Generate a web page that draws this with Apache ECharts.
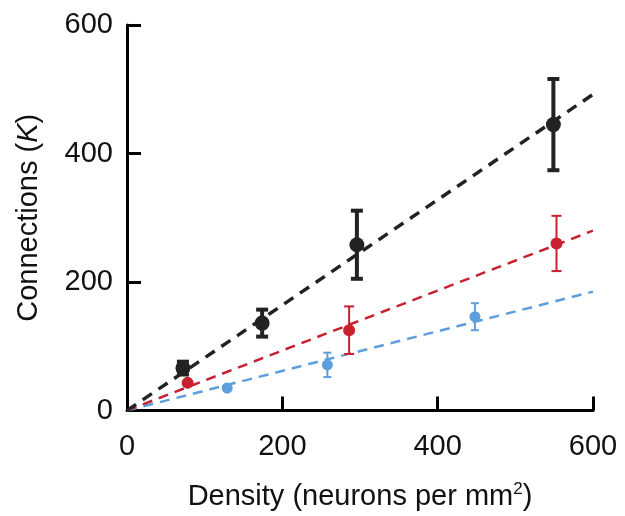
<!DOCTYPE html>
<html>
<head>
<meta charset="utf-8">
<script src="https://cdn.jsdelivr.net/npm/echarts@6/dist/echarts.min.js"></script>
<style>
html,body{margin:0;padding:0;background:#fff;}
#main{width:625px;height:516px;}
</style>
</head>
<body>
<div id="main"></div>
<script>
// data
var blackX = [72, 174, 296, 549];
var blackY = [66, 136, 258, 445];
var blackErr = [10, 21, 53, 71];
var redX = [78, 286, 553];
var redY = [43, 125, 260];
var redErr = [0, 37, 43];
var blueX = [129, 258, 448];
var blueY = [35, 71, 146];
var blueErr = [4, 19, 21];
// fitted lines: [x, y] endpoints
var blackFit = [[0, 0], [600, 492]];
var redFit = [[0, 0], [600, 280]];
var blueFit = [[0, 0], [600, 185]];
var xTicks = [0, 200, 400, 600];
var yTicks = [0, 200, 400, 600];

var BLACK = '#222222', RED = '#c8202e', BLUE = '#5d9fdc';

function points(xs, ys){
    var out = [];
    for(var i = 0; i < xs.length; i++){
        out.push([xs[i], ys[i]]);
    }
    return out;
}
function errRows(xs, ys, es){
    var out = [];
    for(var i = 0; i < xs.length; i++){
        if(es[i] > 0) out.push([xs[i], ys[i] - es[i], ys[i] + es[i]]);
    }
    return out;
}
//误差棒
function errSeries(rows, color, lw, cap){
    return {
        type: 'custom',
        silent: true,
        z: 3,
        data: rows,
        renderItem: function(params, api){
            var lo = api.coord([api.value(0), api.value(1)]);
            var hi = api.coord([api.value(0), api.value(2)]);
            var st = { stroke: color, lineWidth: lw };
            return {
                type: 'group',
                children: [
                    { type: 'line', shape: { x1: lo[0], y1: lo[1], x2: hi[0], y2: hi[1] }, style: st },
                    { type: 'line', shape: { x1: lo[0] - cap, y1: lo[1], x2: lo[0] + cap, y2: lo[1] }, style: st },
                    { type: 'line', shape: { x1: hi[0] - cap, y1: hi[1], x2: hi[0] + cap, y2: hi[1] }, style: st }
                ]
            };
        }
    };
}
function fitSeries(data, color, lw, dash){
    return {
        type: 'line',
        data: data,
        symbol: 'none',
        silent: true,
        z: 2,
        lineStyle: { color: color, width: lw, type: dash }
    };
}
function dotSeries(data, color, size){
    return {
        type: 'scatter',
        data: data,
        symbol: 'circle',
        symbolSize: size,
        z: 4,
        itemStyle: { color: color, opacity: 1 }
    };
}

var axisStyle = {
    axisLine: { show: true, onZero: false, lineStyle: { color: '#000', width: 3 } },
    axisTick: { show: true, inside: true, length: 14, lineStyle: { color: '#000', width: 3 } },
    splitLine: { show: false }
};

var chart = echarts.init(document.getElementById('main'));
var option = {
    animation: false,
    backgroundColor: '#fff',
    textStyle: { fontFamily: 'Liberation Sans, Arial, sans-serif' },
    grid: { left: 127, right: 32, top: 25, bottom: 101 },
    xAxis: {
        type: 'value',
        min: xTicks[0],
        max: xTicks[xTicks.length - 1],
        interval: 200,
        name: 'Density (neurons per mm{sup|2})',
        nameLocation: 'middle',
        nameGap: 70,
        nameTextStyle: {
            color: '#111', fontSize: 29,
            rich: { sup: { fontSize: 17, verticalAlign: 'top', padding: [0, 0, 15, 0], color: '#111' } }
        },
        axisLabel: { color: '#111', fontSize: 29, margin: 22 },
        axisLine: axisStyle.axisLine,
        axisTick: axisStyle.axisTick,
        splitLine: axisStyle.splitLine
    },
    yAxis: {
        type: 'value',
        min: yTicks[0],
        max: yTicks[yTicks.length - 1],
        interval: 200,
        name: 'Connections ({it|K})',
        nameLocation: 'middle',
        nameGap: 84,
        nameTextStyle: {
            color: '#111', fontSize: 29,
            rich: { it: { fontStyle: 'italic', fontSize: 29, color: '#111' } }
        },
        axisLabel: { color: '#111', fontSize: 29, margin: 14 },
        axisLine: axisStyle.axisLine,
        axisTick: axisStyle.axisTick,
        splitLine: axisStyle.splitLine
    },
    series: [
        fitSeries(blueFit, BLUE, 2.5, [10, 7]),
        fitSeries(redFit, RED, 2.5, [10, 7]),
        fitSeries(blackFit, BLACK, 3.5, [11, 8]),
        errSeries(errRows(blueX, blueY, blueErr), BLUE, 2, 4),
        errSeries(errRows(redX, redY, redErr), RED, 2, 5),
        errSeries(errRows(blackX, blackY, blackErr), BLACK, 4, 6),
        dotSeries(points(blueX, blueY), BLUE, 11),
        dotSeries(points(redX, redY), RED, 12),
        dotSeries(points(blackX, blackY), BLACK, 15)
    ]
};
chart.setOption(option, true);
</script>
</body>
</html>
